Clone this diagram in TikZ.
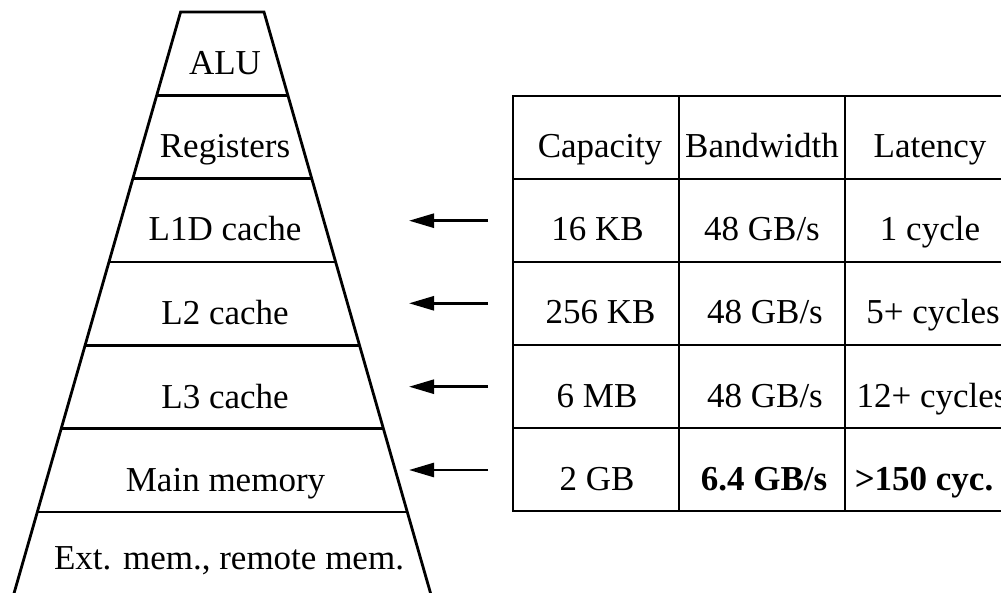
\documentclass[tikz,border=0pt]{standalone}
\usepackage{fontspec}
\setmainfont{Liberation Serif}
\usetikzlibrary{arrows.meta}

\tikzset{
  rule/.style={line width=2.8pt, line cap=butt},
  label/.style={anchor=base, inner sep=0pt, font=\fontsize{35}{42}\selectfont},
  boldlabel/.style={label, font=\fontsize{35}{42}\selectfont\bfseries},
  pointer/.style={line width=2.6pt, -{Triangle[length=25pt, width=14pt]}},
}

\begin{document}
\begin{tikzpicture}[x=1pt, y=-1pt]
  \useasboundingbox (0,0) rectangle (1001,593);
  \clip (0,0) rectangle (1001,593);

  % --- memory pyramid: slanted sides and level separators ---
  \coordinate (TL) at (180.6,12);
  \coordinate (TR) at (264.0,12);
  \coordinate (BL) at (12.1,600);
  \coordinate (BR) at (432.5,600);
  \draw[rule, line join=miter] (BL) -- (TL) -- (TR) -- (BR);
  \draw[rule] (156.7,95.3)  -- (287.9,95.3);
  \draw[rule] (132.8,178.7) -- (311.8,178.7);
  \draw[rule] (109.0,262.0) -- (335.6,262.0);
  \draw[rule] (85.1,345.3)  -- (359.5,345.3);
  \draw[rule] (61.2,428.7)  -- (383.4,428.7);
  \draw[rule] (37.3,512.0)  -- (407.3,512.0);

  \node[label] (alu)  at (225,74.5)  {ALU};
  \node[label] (reg)  at (225,158)   {Registers};
  \node[label] (l1d)  at (225,241)   {L1D cache};
  \node[label] (l2)   at (225,324.5) {L2 cache};
  \node[label] (l3)   at (225,408)   {L3 cache};
  \node[label] (mem)  at (225.5,491) {Main memory};
  \node[label] (ext)  at (229,569)   {Ext. mem., remote mem.};

  % --- characteristics table ---
  \draw[rule] (513,96) rectangle (1011,511);
  \foreach \y in {179,262,345,428} \draw[rule] (513,\y) -- (1011,\y);
  \foreach \x in {679,845} \draw[rule] (\x,96) -- (\x,511);

  \node[label] (hcap) at (600,158) {Capacity};
  \node[label] (hbw)  at (762,158) {Bandwidth};
  \node[label] (hlat) at (930,158) {Latency};

  \node[label] (c1) at (597.5,241) {16 KB};
  \node[label] (b1) at (762,241) {48 GB/s};
  \node[label] (t1) at (930,241) {1 cycle};

  \node[label] (c2) at (600.5,324) {256 KB};
  \node[label] (b2) at (765,324) {48 GB/s};
  \node[label] (t2) at (933,324) {5+ cycles};

  \node[label] (c3) at (597,407) {6 MB};
  \node[label] (b3) at (765,407) {48 GB/s};
  \node[label] (t3) at (932,407) {12+ cycles};

  \node[label] (c4) at (597,490) {2 GB};
  \node[boldlabel] (b4) at (764,490) {6.4 GB/s};
  \node[boldlabel] (t4) at (924,490) {>150 cyc.};

  % --- pointers from table rows to pyramid levels ---
  \foreach \i/\y in {1/220.7, 2/303.3, 3/386.7, 4/470} {
    \coordinate (from\i) at (488,\y);
    \coordinate (to\i)   at (409,\y);
    \draw[pointer] (from\i) -- (to\i);
  }
\end{tikzpicture}
\end{document}
